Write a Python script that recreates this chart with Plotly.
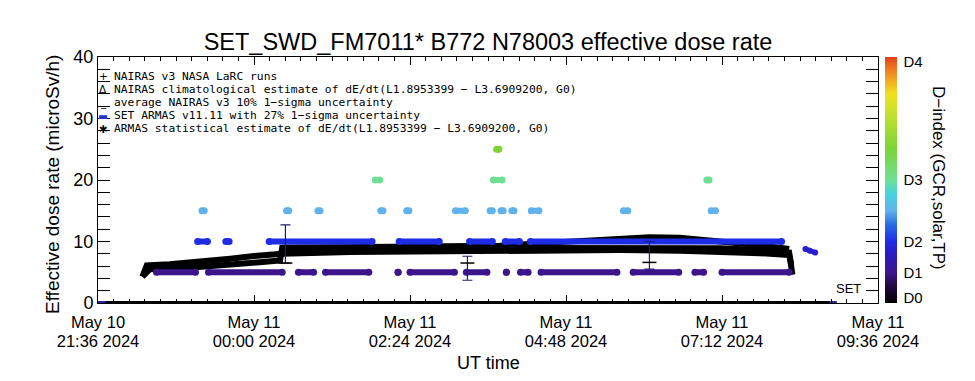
import plotly.graph_objects as go
from plotly.colors import sample_colorscale

# ---------------- data ----------------
# times are "HH:MM"; hours >= 21 belong to 2024-05-10, others to 2024-05-11
x_range = ["21:36", "09:36"]

# ARMAS quantised dose-rate readings, as runs (start, end) per level (microSv/h)
level_0_runs = [("21:36", "08:52")]
level_5_runs = [("22:30", "23:06"), ("23:18", "00:26"), ("00:41", "00:55"), ("01:06", "01:46"),
                ("02:13", "02:13"), ("02:24", "03:05"), ("03:16", "03:35"), ("03:53", "03:53"),
                ("04:06", "04:13"), ("04:25", "05:35"), ("05:50", "06:32"), ("06:47", "06:55"),
                ("07:12", "08:14")]
level_10_runs = [("23:08", "23:17"), ("23:34", "23:37"), ("00:14", "01:49"), ("02:14", "02:51"),
                 ("03:19", "03:40"), ("03:52", "04:05"), ("04:15", "08:07")]
level_15_runs = [("23:12", "23:14"), ("00:30", "00:32"), ("00:59", "01:01"), ("01:57", "01:59"),
                 ("02:21", "02:23"), ("03:06", "03:15"), ("03:38", "03:40"), ("03:48", "03:50"),
                 ("03:58", "04:00"), ("04:16", "04:23"), ("05:41", "05:45"), ("07:02", "07:06")]
level_20_runs = [("01:52", "01:56"), ("03:41", "03:49"), ("06:58", "07:00")]
level_25_runs = [("03:44", "03:46")]
descent_times = ["08:29", "08:33", "08:38"]
descent_values = [8.8, 8.5, 8.2]
edge_runs = [("21:36", "21:43"), ("08:52", "08:58")]

# NAIRAS v3 NASA LaRC runs
nairas_times = ["00:26", "02:13", "03:47", "04:42", "05:33", "06:05", "06:33", "07:10", "07:47", "08:14"]
nairas_values = [9.0, 9.1, 9.3, 9.9, 10.4, 10.7, 10.6, 10.1, 9.4, 8.8]
# NAIRAS climatological estimate
clim_times = ["22:17", "22:21", "22:42", "23:06", "23:38", "00:03", "00:26", "01:29", "02:33",
              "03:47", "04:42", "05:38", "06:33", "07:10", "07:47", "08:14", "08:16"]
clim_values = [4.3, 6.1, 6.3, 6.6, 7.2, 7.7, 8.0, 8.3, 8.4, 8.5, 8.5, 8.6, 8.5, 8.4, 8.1, 7.8, 6.2]
# ARMAS statistical estimate
stat_times = ["22:17", "22:24", "23:06", "23:38", "00:03", "00:24", "00:26", "01:29", "02:33",
              "03:47", "04:42", "05:38", "06:33", "07:10", "07:47", "08:14", "08:17"]
stat_values = [4.3, 5.5, 5.8, 6.3, 6.7, 6.9, 9.0, 9.0, 9.0, 9.0, 9.0, 9.0, 9.0, 8.9, 8.6, 8.2, 4.6]

# error bars (ARMAS 27 %) and NAIRAS 10 % markers
err_times = ["00:29", "03:17", "06:05"]
err_centre = [9.6, 5.65, 7.75]
err_half = [3.1, 1.95, 2.25]
nairas_unc_values = [6.5, 6.5, 6.6]

d_tick_values = [0.9, 5, 10, 20, 39.3]
d_tick_labels = ["D0", "D1", "D2", "D3", "D4"]

legend_lines = [
    ("+", "black", "NAIRAS v3 NASA LaRC runs"),
    ("\u0394", "black", "NAIRAS climatological estimate of dE/dt(L1.8953399 \u2212 L3.6909200, G0)"),
    ("_", "black", "average NAIRAS v3 10% 1\u2212sigma uncertainty"),
    ("\u25AC", "rgb(40,50,220)", "SET ARMAS v11.11 with 27% 1\u2212sigma uncertainty"),
    ("\u2731", "black", "ARMAS statistical estimate of dE/dt(L1.8953399 \u2212 L3.6909200, G0)"),
]

# ---------------- helpers ----------------
def ts(hm):
    h = int(hm.split(":")[0])
    day = "2024-05-10" if h >= 21 else "2024-05-11"
    return f"{day} {hm}"

CS = [
    [0.0, "rgb(0,0,0)"], [0.06, "rgb(30,6,56)"], [0.125, "rgb(60,20,140)"],
    [0.2, "rgb(44,24,196)"], [0.25, "rgb(30,44,230)"], [0.32, "rgb(40,110,228)"],
    [0.375, "rgb(96,178,236)"], [0.44, "rgb(70,210,225)"], [0.5, "rgb(110,224,150)"],
    [0.625, "rgb(124,212,56)"], [0.77, "rgb(196,224,48)"], [0.85, "rgb(240,224,32)"],
    [0.9, "rgb(240,176,32)"], [0.96, "rgb(236,112,32)"], [1.0, "rgb(224,64,24)"],
]
CMAX = 40.0

def runs_xy(runs, level):
    xs, ys = [], []
    for a, b in runs:
        xs += [ts(a), ts(b), None]
        ys += [level, level, None]
    return xs, ys

fig = go.Figure()

# black model curves
for tt, vv in [(clim_times, clim_values), (stat_times, stat_values), (nairas_times, nairas_values)]:
    fig.add_trace(go.Scatter(x=[ts(t) for t in tt], y=vv, mode="lines",
                             line=dict(color="black", width=6)))

# ARMAS quantised levels coloured by D-index colour scale
for runs, level in [(level_5_runs, 5), (level_10_runs, 10), (level_15_runs, 15),
                    (level_20_runs, 20), (level_25_runs, 25)]:
    xs, ys = runs_xy(runs, level)
    col = sample_colorscale(CS, [level / CMAX])[0]
    fig.add_trace(go.Scatter(
        x=xs, y=ys, mode="lines+markers",
        line=dict(color=col, width=6),
        marker=dict(size=7, color=[level if v is not None else 0 for v in ys],
                    coloraxis="coloraxis", line=dict(width=0)),
    ))

fig.add_trace(go.Scatter(
    x=[ts(t) for t in descent_times], y=descent_values, mode="lines+markers",
    line=dict(color=sample_colorscale(CS, [descent_values[1] / CMAX])[0], width=5),
    marker=dict(size=6, color=descent_values, coloraxis="coloraxis"),
))

# error bars
fig.add_trace(go.Scatter(
    x=[ts(t) for t in err_times], y=err_centre, mode="markers",
    marker=dict(size=1, color="rgba(0,0,0,0)"),
    error_y=dict(type="data", array=err_half, color="rgb(30,30,110)", thickness=1.2, width=5),
))
fig.add_trace(go.Scatter(
    x=[ts(t) for t in err_times], y=nairas_unc_values, mode="markers",
    marker=dict(symbol="line-ew", size=10, line=dict(width=1.5, color="black")),
))

# ARMAS at zero level (on the overlaid time axis that carries the second label row)
xs, ys = runs_xy(level_0_runs, 0)
fig.add_trace(go.Scatter(x=xs, y=ys, mode="lines", line=dict(color="black", width=4),
                         xaxis="x2", cliponaxis=False, hoverinfo="skip"))
xs, ys = runs_xy(edge_runs, 0)
fig.add_trace(go.Scatter(x=xs, y=ys, mode="lines", line=dict(color="rgb(40,40,150)", width=4),
                         xaxis="x2", cliponaxis=False, hoverinfo="skip"))

# ---------------- layout ----------------
L, R, T, B = 98, 97, 57, 78
W, H = 975, 381
PW, PH = W - L - R, H - T - B

def px(x):
    return (x - L) / PW

def py(y):
    return (T + PH - y) / PH

FONT = "Liberation Sans, Arial, sans-serif"
LEGFONT = "DejaVu Sans Mono, monospace"

common_x = dict(
    type="date", range=[ts(x_range[0]), ts(x_range[1])],
    tick0=ts("21:36"), dtick=8640000, showgrid=False, zeroline=False,
    tickfont=dict(size=16.5, color="black", family=FONT),
)

fig.update_layout(
    width=W, height=H, margin=dict(l=L, r=R, t=T, b=B, autoexpand=False),
    paper_bgcolor="white", plot_bgcolor="white", showlegend=False,
    font=dict(family=FONT, color="black"),
    title=dict(text="SET_SWD_FM7011* B772 N78003 effective dose rate",
               x=0.5, xref="paper", y=1 - 42 / H, yanchor="middle",
               font=dict(size=23.5, color="black", family=FONT)),
    xaxis=dict(
        **common_x, tickformat="%b %d",
        ticks="inside", ticklen=8, tickcolor="black", showline=True, linecolor="black",
        linewidth=1, mirror="allticks", ticklabelstandoff=4,
        minor=dict(dtick=864000, ticks="inside", ticklen=4, tickcolor="black", showgrid=False),
    ),
    xaxis2=dict(
        **common_x, tickformat="%H:%M %Y", overlaying="x", anchor="y", side="bottom",
        ticks="", showline=False, ticklabelstandoff=26,
    ),
    yaxis=dict(
        range=[0, 40], dtick=10, ticks="inside", ticklen=12, tickcolor="black",
        showline=True, linecolor="black", linewidth=1, mirror="allticks",
        showgrid=False, zeroline=False, tickfont=dict(size=18),
        minor=dict(dtick=2, ticks="inside", ticklen=6, tickcolor="black", showgrid=False),
    ),
    coloraxis=dict(
        cmin=0, cmax=CMAX, colorscale=CS,
        colorbar=dict(
            x=px(885), xanchor="left", xpad=0, y=0.5, yanchor="middle", ypad=0,
            len=1, lenmode="fraction", thickness=12, outlinewidth=0,
            tickvals=d_tick_values, ticktext=d_tick_labels,
            ticks="outside", ticklen=4, tickcolor="rgba(0,0,0,0)",
            tickfont=dict(size=15, color="black"),
        ),
    ),
)

ann = []
leg_y = [76, 89.2, 102.4, 115.6, 128.8]
for i, (sym, col, txt) in enumerate(legend_lines):
    yy = leg_y[i]
    ann.append(dict(x=px(103), y=py(yy), xref="paper", yref="paper", text=sym, showarrow=False,
                    xanchor="center", yanchor="middle", font=dict(size=10.5, color=col, family="DejaVu Sans")))
    ann.append(dict(x=px(112), y=py(yy), xref="paper", yref="paper", text=txt, showarrow=False,
                    xanchor="left", yanchor="middle", font=dict(size=11.3, color="black", family=LEGFONT)))
ann.append(dict(x=px(848), y=py(288), xref="paper", yref="paper", text="SET", showarrow=False,
                xanchor="center", yanchor="middle", font=dict(size=13, color="black")))
ann.append(dict(x=px(488), y=py(363), xref="paper", yref="paper", text="UT time", showarrow=False,
                xanchor="center", yanchor="middle", font=dict(size=18, color="black")))
ann.append(dict(x=px(52), y=py(185), xref="paper", yref="paper",
                text="Effective dose rate (microSv/h)", showarrow=False, textangle=-90,
                xanchor="center", yanchor="middle", font=dict(size=19, color="black")))
ann.append(dict(x=px(939), y=py(178), xref="paper", yref="paper", text="D\u2212index (GCR,solar,TP)",
                showarrow=False, textangle=90, xanchor="center", yanchor="middle",
                font=dict(size=17, color="black")))
fig.update_layout(annotations=ann)

fig.write_html("out.html", config={"displayModeBar": False},
               post_script="document.body.style.margin='0px';")
